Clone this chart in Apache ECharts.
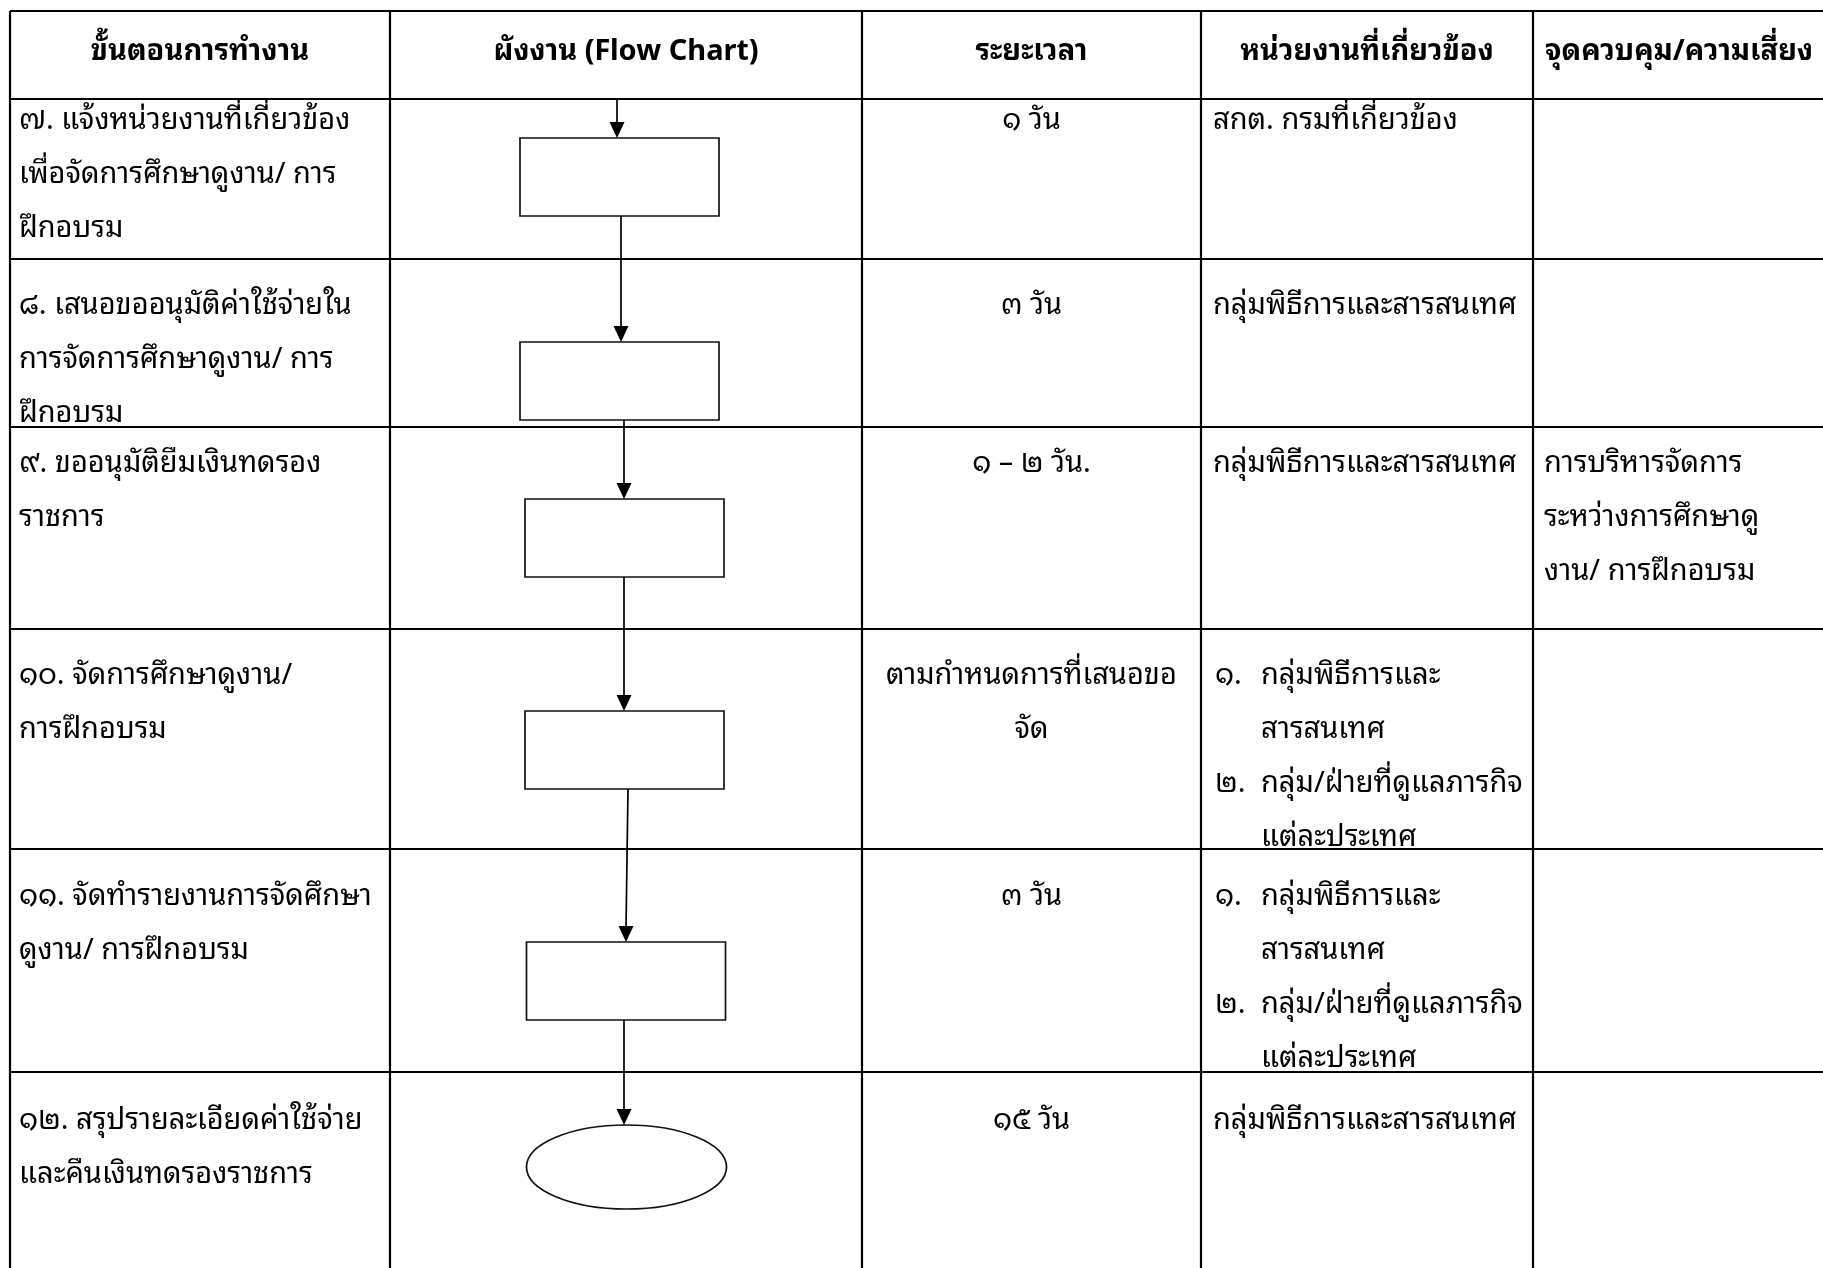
<!DOCTYPE html>
<html><head><meta charset="utf-8">
<script src="https://cdn.jsdelivr.net/npm/echarts@6/dist/echarts.min.js"></script>
<style>html,body{margin:0;padding:0;background:#fff}#c{width:1823px;height:1268px}</style>
</head><body><div id="c"></div>
<script>
// ---------- content ----------
const headers = ['ขั้นตอนการทำงาน', 'ผังงาน (Flow Chart)', 'ระยะเวลา', 'หน่วยงานที่เกี่ยวข้อง', 'จุดควบคุม/ความเสี่ยง'];
const steps = [
  ['๗. แจ้งหน่วยงานที่เกี่ยวข้อง', 'เพื่อจัดการศึกษาดูงาน/ การ', 'ฝึกอบรม'],
  ['๘. เสนอขออนุมัติค่าใช้จ่ายใน', 'การจัดการศึกษาดูงาน/ การ', 'ฝึกอบรม'],
  ['๙. ขออนุมัติยืมเงินทดรอง', 'ราชการ'],
  ['๑๐. จัดการศึกษาดูงาน/', 'การฝึกอบรม'],
  ['๑๑. จัดทำรายงานการจัดศึกษา', 'ดูงาน/ การฝึกอบรม'],
  ['๑๒. สรุปรายละเอียดค่าใช้จ่าย', 'และคืนเงินทดรองราชการ']
];
const durations = [
  ['๑ วัน'], ['๓ วัน'], ['๑ – ๒ วัน.'], ['ตามกำหนดการที่เสนอขอ', 'จัด'], ['๓ วัน'], ['๑๕ วัน']
];
const agencies = [
  [['', 'สกต. กรมที่เกี่ยวข้อง']],
  [['', 'กลุ่มพิธีการและสารสนเทศ']],
  [['', 'กลุ่มพิธีการและสารสนเทศ']],
  [['๑.', 'กลุ่มพิธีการและ', 'สารสนเทศ'], ['๒.', 'กลุ่ม/ฝ่ายที่ดูแลภารกิจ', 'แต่ละประเทศ']],
  [['๑.', 'กลุ่มพิธีการและ', 'สารสนเทศ'], ['๒.', 'กลุ่ม/ฝ่ายที่ดูแลภารกิจ', 'แต่ละประเทศ']],
  [['', 'กลุ่มพิธีการและสารสนเทศ']]
];
const controls = [
  [], [], ['การบริหารจัดการ', 'ระหว่างการศึกษาดู', 'งาน/ การฝึกอบรม'], [], [], []
];
const flowShapes = ['rect', 'rect', 'rect', 'rect', 'rect', 'ellipse'];

// ---------- layout ----------
const W = 1823, H = 1268;
const colEdges = [10, 390, 862, 1201, 1533, 1825];
const tableTop = 11;
const rowEdges = [99, 259, 427, 629, 849, 1072, 1270];
const shapeTop = [39, 83, 72, 82, 93, 53];
const shapeCx = [619.5, 619.5, 624.5, 624.5, 626, 626.5];
const arrowX = [[617, 617], [621, 621], [624, 624], [624, 624], [628, 626], [624, 624]];
const rectW = 199, rectH = 78, ellW = 200, ellH = 84;
const firstLine = [22, 47, 37, 47, 48, 49];
const lineH = 54, fontSize = 29, headerY = 52;
const FONT = "'Noto Sans Thai Looped','Loma','Garuda','Noto Serif Thai','Noto Sans Thai','Noto Sans',sans-serif";
const pad1 = 9, padList = 14, listIndent = 60, pad5 = 11;

// ---------- build drawing items ----------
const gridLines = [];
gridLines.push([colEdges[0], tableTop, W + 2, tableTop]);
rowEdges.slice(0, -1).forEach(y => gridLines.push([colEdges[0], y, W + 2, y]));
colEdges.forEach(x => gridLines.push([x, tableTop, x, H + 2]));

const texts = [];
headers.forEach((h, i) => texts.push({x: (colEdges[i] + colEdges[i + 1]) / 2, y: headerY, t: h, a: 'center', b: true}));
steps.forEach((lines, r) => {
  const y0 = rowEdges[r] + firstLine[r];
  lines.forEach((s, k) => texts.push({x: colEdges[0] + pad1, y: y0 + k * lineH, t: s, a: 'left'}));
  durations[r].forEach((s, k) => texts.push({x: (colEdges[2] + colEdges[3]) / 2, y: y0 + k * lineH, t: s, a: 'center'}));
  let k = 0;
  agencies[r].forEach(item => {
    const [num, ...rest] = item;
    if (num) texts.push({x: colEdges[3] + padList, y: y0 + k * lineH, t: num, a: 'left'});
    rest.forEach(s => {
      texts.push({x: colEdges[3] + (num ? listIndent : padList - 2), y: y0 + k * lineH, t: s, a: 'left'});
      k++;
    });
  });
  controls[r].forEach((s, j) => texts.push({x: colEdges[4] + pad5, y: y0 + j * lineH, t: s, a: 'left'}));
});

const shapes = flowShapes.map((type, r) => {
  const w = type === 'rect' ? rectW : ellW, h = type === 'rect' ? rectH : ellH;
  const top = rowEdges[r] + shapeTop[r];
  return {type, cx: shapeCx[r], top, w, h};
});
const arrows = shapes.map((s, r) => {
  const fromY = r === 0 ? rowEdges[0] : shapes[r - 1].top + shapes[r - 1].h;
  return [arrowX[r][0], fromY, arrowX[r][1], s.top];
});

// ---------- chart ----------
const chart = echarts.init(document.getElementById('c'), null, {renderer: 'canvas'});
chart.setOption({
  animation: false,
  backgroundColor: '#ffffff',
  grid: {left: 0, right: 0, top: 0, bottom: 0},
  xAxis: {type: 'value', min: 0, max: W, show: false},
  yAxis: {type: 'value', min: 0, max: H, inverse: true, show: false},
  series: [
    {
      type: 'custom', name: 'grid', coordinateSystem: 'cartesian2d', silent: true,
      data: gridLines,
      encode: {x: [0, 2], y: [1, 3]},
      renderItem: (p, api) => {
        const a = api.coord([api.value(0), api.value(1)]), b = api.coord([api.value(2), api.value(3)]);
        return {type: 'line', shape: {x1: a[0], y1: a[1], x2: b[0], y2: b[1]}, style: {stroke: '#000', lineWidth: 2.2}};
      }
    },
    {
      type: 'custom', name: 'shapes', coordinateSystem: 'cartesian2d', silent: true,
      data: shapes.map(s => [s.cx, s.top]),
      renderItem: (p, api) => {
        const s = shapes[p.dataIndex];
        const tl = api.coord([s.cx - s.w / 2, s.top]), br = api.coord([s.cx + s.w / 2, s.top + s.h]);
        if (s.type === 'rect') {
          return {type: 'rect', shape: {x: tl[0], y: tl[1], width: br[0] - tl[0], height: br[1] - tl[1]}, style: {fill: '#fff', stroke: '#111', lineWidth: 1.7}};
        }
        return {type: 'ellipse', shape: {cx: (tl[0] + br[0]) / 2, cy: (tl[1] + br[1]) / 2, rx: (br[0] - tl[0]) / 2, ry: (br[1] - tl[1]) / 2}, style: {fill: '#fff', stroke: '#111', lineWidth: 1.7}};
      }
    },
    {
      type: 'custom', name: 'arrows', coordinateSystem: 'cartesian2d', silent: true,
      data: arrows,
      encode: {x: [0, 2], y: [1, 3]},
      renderItem: (p, api) => {
        const a = api.coord([api.value(0), api.value(1)]), b = api.coord([api.value(2), api.value(3)]);
        const hl = 16, hw = 7.5;
        return {type: 'group', children: [
          {type: 'line', shape: {x1: a[0], y1: a[1], x2: b[0], y2: b[1] - hl + 2}, style: {stroke: '#000', lineWidth: 1.7}},
          {type: 'polygon', shape: {points: [[b[0] - hw, b[1] - hl], [b[0] + hw, b[1] - hl], [b[0], b[1]]]}, style: {fill: '#000'}}
        ]};
      }
    },
    {
      type: 'custom', name: 'texts', coordinateSystem: 'cartesian2d', silent: true,
      data: texts.map(t => [t.x, t.y]),
      renderItem: (p, api) => {
        const t = texts[p.dataIndex];
        const c = api.coord([api.value(0), api.value(1)]);
        return {type: 'text', x: c[0], y: c[1], style: {text: t.t, fill: '#000', fontSize: fontSize, fontFamily: FONT, fontWeight: t.b ? 'bold' : 'normal', align: t.a, verticalAlign: 'middle'}};
      }
    }
  ]
});
</script></body></html>
